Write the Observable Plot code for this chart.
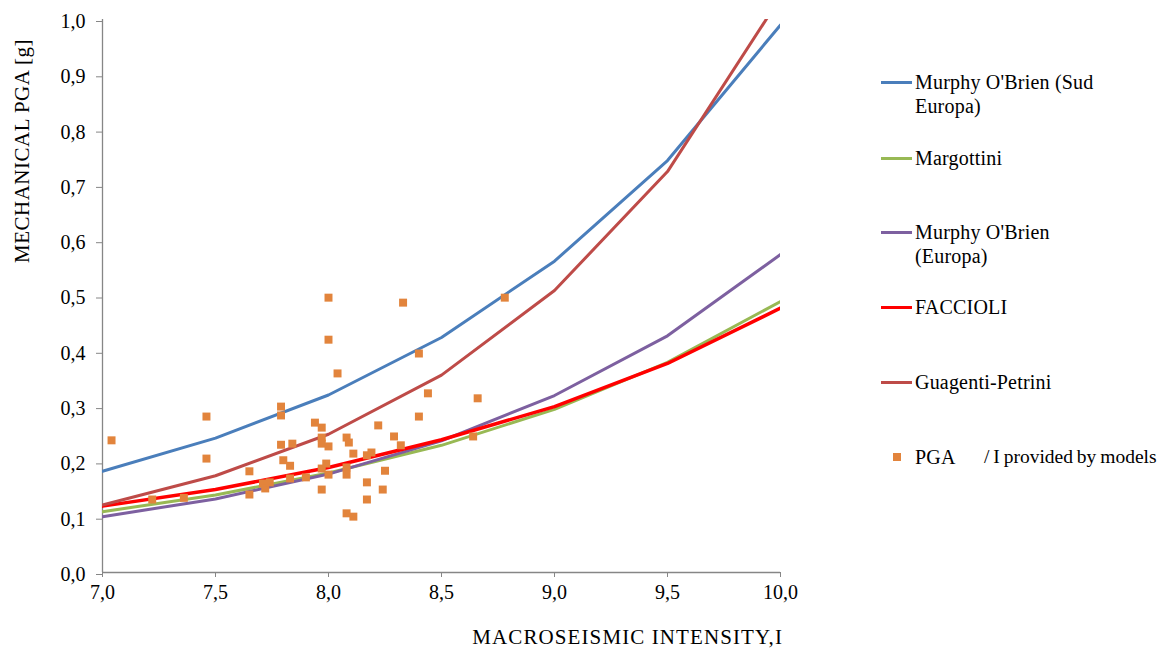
<!DOCTYPE html>
<html>
<head>
<meta charset="utf-8">
<script src="https://cdn.jsdelivr.net/npm/d3@7"></script>
<script src="https://cdn.jsdelivr.net/npm/@observablehq/plot@0.6"></script>
<style>
  html, body { margin: 0; padding: 0; background: #fff; }
  #wrap { position: relative; width: 1165px; height: 650px; font-family: "Liberation Serif", "Times New Roman", serif; color: #000; overflow: hidden; }
  #wrap svg { position: absolute; left: 0; top: 0; }
  .ytitle { position: absolute; left: 22px; top: 151px; transform: translate(-50%, -50%) rotate(-90deg); font-size: 21px; line-height: 24px; letter-spacing: 0.5px; white-space: nowrap; }
  .xtitle { position: absolute; right: 382px; top: 625px; font-size: 21px; line-height: 24px; letter-spacing: 1.1px; white-space: nowrap; }
  .leg { position: absolute; left: 881px; font-size: 20px; line-height: 24px; }
  .leg .sw { position: absolute; left: 0; width: 31px; height: 3px; top: 11px; }
  .leg .sq { position: absolute; left: 12px; width: 8px; height: 8px; top: 8px; }
  .leg .tx { position: absolute; left: 34px; white-space: pre; letter-spacing: 0.2px; }
</style>
</head>
<body>
<div id="wrap"></div>
<script>
// ---- data ----
const intensity = [7.0, 7.5, 8.0, 8.5, 9.0, 9.5, 10.0];
const seriesNames = ["Murphy O'Brien (Sud Europa)", "Margottini", "Murphy O'Brien (Europa)", "FACCIOLI", "Guagenti-Petrini"];
const seriesColors = ["#4A7EBB", "#98B954", "#7D60A0", "#FF0000", "#BE4B48"];
const murphySud = [0.183, 0.243, 0.321, 0.425, 0.563, 0.745, 0.99];
const margottini = [0.110, 0.140, 0.180, 0.230, 0.295, 0.380, 0.490];
const murphyEur = [0.101, 0.133, 0.178, 0.238, 0.320, 0.428, 0.575];
const faccioli = [0.120, 0.150, 0.190, 0.240, 0.300, 0.378, 0.478];
const guagenti = [0.122, 0.175, 0.250, 0.357, 0.510, 0.725, 1.040];
const scatterI = [7.04, 7.22, 7.36, 7.46, 7.46, 7.65, 7.65, 7.71, 7.72, 7.74,
  7.79, 7.79, 7.79, 7.80, 7.83, 7.83, 7.84, 7.90, 7.94, 7.97,
  7.97, 7.97, 7.97, 7.97, 7.99, 8.00, 8.00, 8.00, 8.00, 8.04,
  8.08, 8.08, 8.08, 8.08, 8.09, 8.11, 8.11, 8.17, 8.17, 8.17,
  8.19, 8.22, 8.24, 8.25, 8.29, 8.32, 8.33, 8.40, 8.40, 8.44,
  8.64, 8.66, 8.78];
const scatterPGA = [0.239, 0.132, 0.135, 0.206, 0.282, 0.183, 0.141, 0.161, 0.152, 0.163,
  0.300, 0.284, 0.231, 0.203, 0.193, 0.170, 0.233, 0.172, 0.271, 0.262,
  0.244, 0.233, 0.188, 0.150, 0.197, 0.497, 0.421, 0.228, 0.177, 0.360,
  0.244, 0.190, 0.177, 0.107, 0.235, 0.101, 0.215, 0.212, 0.163, 0.132,
  0.217, 0.266, 0.150, 0.184, 0.246, 0.230, 0.488, 0.396, 0.282, 0.324,
  0.246, 0.315, 0.497];
const yTicks = [0, 0.1, 0.2, 0.3, 0.4, 0.5, 0.6, 0.7, 0.8, 0.9, 1.0];
const xTicks = [7.0, 7.5, 8.0, 8.5, 9.0, 9.5, 10.0];
const yTitle = "MECHANICAL PGA [g]";
const xTitle = "MACROSEISMIC INTENSITY,I";
const scatterLabelA = "PGA";
const scatterLabelB = "/ I provided by models";
const scatterColor = "#E2843C";

// ---- build ----
const seriesValues = [murphySud, margottini, murphyEur, faccioli, guagenti];
const lineData = [];
seriesValues.forEach((vals, s) => vals.forEach((v, i) => lineData.push({s, x: intensity[i], y: v})));
const pts = scatterI.map((x, i) => ({x, y: scatterPGA[i]}));
const fmt = d => d.toFixed(1).replace(".", ",");

const marks = [
  Plot.ruleY([0], {stroke: "#868686", strokeWidth: 1.3}),
  Plot.ruleX([7], {stroke: "#868686", strokeWidth: 1.3}),
  Plot.axisY({ticks: yTicks, tickFormat: fmt, tickSize: 6, tickPadding: 11, dy: 2, stroke: "#868686", fill: "black", label: null}),
  Plot.axisX({ticks: xTicks, tickFormat: fmt, tickSize: 5, tickPadding: 7, stroke: "#868686", fill: "black", label: null})
];
seriesValues.forEach((vals, s) => {
  marks.push(Plot.line(lineData.filter(d => d.s === s), {x: "x", y: "y", stroke: seriesColors[s], strokeWidth: s === 3 ? 3.5 : 3, clip: true}));
});
marks.push(Plot.dot(pts, {x: "x", y: "y", symbol: "square", r: 4.5, fill: scatterColor, stroke: "none"}));

const chart = Plot.plot({
  width: 1165,
  height: 650,
  marginLeft: 102,
  marginRight: 385,
  marginTop: 19,
  marginBottom: 78,
  style: {fontFamily: "'Liberation Serif', 'Times New Roman', serif", fontSize: "20px", background: "white", color: "black"},
  x: {domain: [7, 10]},
  y: {domain: [0, 1]},
  marks
});

const wrap = document.getElementById("wrap");
wrap.appendChild(chart);

const yt = document.createElement("div"); yt.className = "ytitle"; yt.textContent = yTitle; wrap.appendChild(yt);
const xt = document.createElement("div"); xt.className = "xtitle"; xt.textContent = xTitle; wrap.appendChild(xt);

const legendTops = [70, 146, 220, 295, 370];
const legendLines = [["Murphy O'Brien (Sud", "Europa)"], ["Margottini"], ["Murphy O'Brien", "(Europa)"], ["FACCIOLI"], ["Guagenti-Petrini"]];
seriesNames.forEach((name, s) => {
  const d = document.createElement("div"); d.className = "leg"; d.style.top = legendTops[s] + "px";
  const sw = document.createElement("div"); sw.className = "sw"; sw.style.background = seriesColors[s]; d.appendChild(sw);
  const t = document.createElement("div"); t.className = "tx"; t.textContent = legendLines[s].join("\n"); d.appendChild(t);
  wrap.appendChild(d);
});
const ld = document.createElement("div"); ld.className = "leg"; ld.style.top = "445px";
const sq = document.createElement("div"); sq.className = "sq"; sq.style.background = scatterColor; ld.appendChild(sq);
const la = document.createElement("div"); la.className = "tx"; la.textContent = scatterLabelA; ld.appendChild(la);
const lb = document.createElement("div"); lb.className = "tx";
lb.style.left = "103px"; lb.style.letterSpacing = "0px"; lb.style.wordSpacing = "-1px"; lb.style.fontSize = "19.5px";
lb.textContent = scatterLabelB; ld.appendChild(lb);
wrap.appendChild(ld);
</script>
</body>
</html>
